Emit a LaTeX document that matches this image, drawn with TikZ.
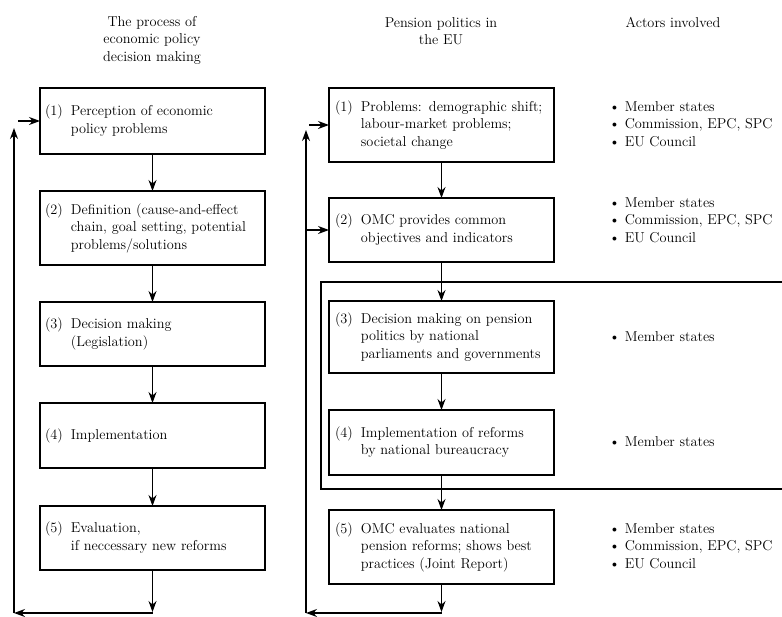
\documentclass[tikz,border=0pt]{standalone}
\usetikzlibrary{arrows.meta}
\newcommand{\stp}[2]{\begin{tabular}{@{}l@{\hspace{8pt}}l@{}}#1 & #2\end{tabular}}
\begin{document}
\begin{tikzpicture}[x=1pt,y=-1pt,
  font=\fontsize{14.3}{17.5}\selectfont,
  box/.style={draw, line width=1.2pt, anchor=north west, inner xsep=5pt, inner ysep=0pt,
    text width=215pt, align=left, outer sep=0pt},
  arr/.style={-{Stealth[length=11pt,width=8pt]}, line width=1.1pt},
  ln/.style={line width=1.1pt},
  hdr/.style={align=center, inner sep=0pt},
  actors/.style={align=left, inner sep=0pt, anchor=west}
]
\useasboundingbox (0,0) rectangle (782,616);

% headers
\node[hdr] (h1) at (152,40) {The process of\\economic policy\\decision making};
\node[hdr] (h2) at (441,31) {Pension politics in\\the EU};
\node[hdr] (h3) at (673,22) {Actors involved};

% left column
\node[box, minimum height=66pt] (L1) at (40,88) {\stp{(1)}{Perception of economic\\ & policy problems}};
\node[box, minimum height=74pt] (L2) at (40,191) {\stp{(2)}{Definition (cause-and-effect\\ & chain, goal setting, potential\\ & problems/solutions}};
\node[box, minimum height=64pt] (L3) at (40,302) {\stp{(3)}{Decision making\\ & (Legislation)}};
\node[box, minimum height=65pt] (L4) at (40,403) {\stp{(4)}{Implementation}};
\node[box, minimum height=64pt] (L5) at (40,506) {\stp{(5)}{Evaluation,\\ & if neccessary new reforms}};

\draw[arr] (L1.south) -- (L2.north);
\draw[arr] (L2.south) -- (L3.north);
\draw[arr] (L3.south) -- (L4.north);
\draw[arr] (L4.south) -- (L5.north);

\coordinate (LB) at (153,612);
\coordinate (LB2) at (153,613);
\coordinate (LC) at (14,613);
\coordinate (LT) at (14,128);
\coordinate (LJ) at (18,121);
\draw[arr] (L5.south) -- (L5.south |- LB);
\draw[arr] (L5.south |- LB2) -- (LC);
\draw[arr] (LC) -- (LT);
\draw[arr] (LJ) -- (L1.west);

% right column frame
\coordinate (F1) at (782,282);
\coordinate (F2) at (321,282);
\coordinate (F3) at (321,489);
\coordinate (F4) at (782,489);
\draw[ln] (F1) -- (F2) -- (F3) -- (F4);

% right column boxes
\node[box, minimum height=74pt, inner xsep=6pt, text width=213pt] (R1) at (329,88) {\stp{(1)}{Problems: demographic shift;\\ & labour-market problems;\\ & societal change}};
\node[box, minimum height=64pt, inner xsep=6pt, text width=213pt] (R2) at (329,198) {\stp{(2)}{OMC provides common\\ & objectives and indicators}};
\node[box, minimum height=72pt, inner xsep=6pt, text width=213pt] (R3) at (329,301) {\stp{(3)}{Decision making on pension\\ & politics by national\\ & parliaments and governments}};
\node[box, minimum height=65pt, inner xsep=6pt, text width=213pt] (R4) at (329,410) {\stp{(4)}{Implementation of reforms\\ & by national bureaucracy}};
\node[box, minimum height=74pt, inner xsep=6pt, text width=213pt] (R5) at (329,510) {\stp{(5)}{OMC evaluates national\\ & pension reforms; shows best\\ & practices (Joint Report)}};

\draw[arr] (R1.south) -- (R2.north);
\draw[arr] (R2.south) -- (R3.north);
\draw[arr] (R3.south) -- (R4.north);
\draw[arr] (R4.south) -- (R5.north);

\coordinate (RB) at (441.5,612);
\coordinate (RB2) at (441.5,613);
\coordinate (RC) at (306,613);
\coordinate (RT) at (306,130);
\coordinate (RJ) at (309,125);
\coordinate (RK) at (306,230);
\draw[arr] (R5.south) -- (R5.south |- RB);
\draw[arr] (R5.south |- RB2) -- (RC);
\draw[arr] (RC) -- (RT);
\draw[arr] (RJ) -- (R1.west);
\draw[arr] (RK) -- (R2.west);

% actors
\node[actors] (A1) at (609,124) {\textbullet\ Member states\\\textbullet\ Commission, EPC, SPC\\\textbullet\ EU Council};
\node[actors] (A2) at (609,220) {\textbullet\ Member states\\\textbullet\ Commission, EPC, SPC\\\textbullet\ EU Council};
\node[actors] (A3) at (609,337) {\textbullet\ Member states};
\node[actors] (A4) at (609,442) {\textbullet\ Member states};
\node[actors] (A5) at (609,546) {\textbullet\ Member states\\\textbullet\ Commission, EPC, SPC\\\textbullet\ EU Council};
\end{tikzpicture}
\end{document}
